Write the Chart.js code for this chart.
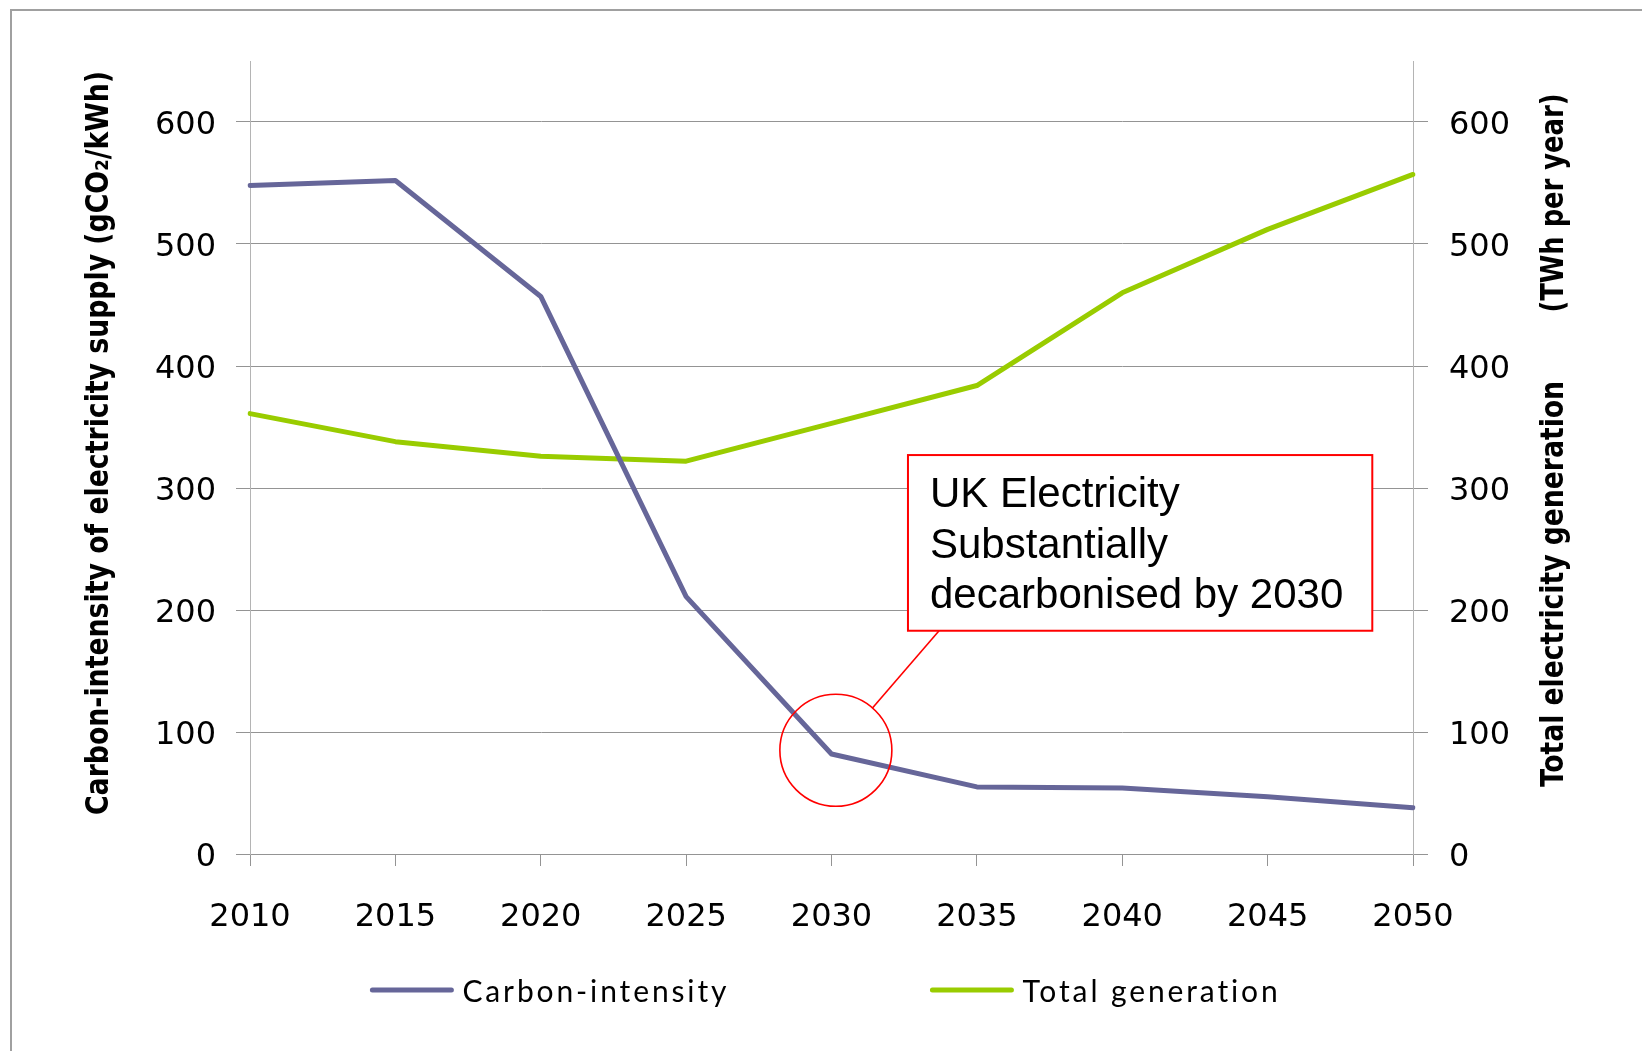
<!DOCTYPE html>
<html>
<head>
<meta charset="utf-8">
<title>UK electricity: carbon-intensity and total generation</title>
<script src="https://cdn.jsdelivr.net/npm/chart.js@4/dist/chart.umd.min.js"></script>
<style>
  html, body { margin: 0; padding: 0; background: #ffffff; }
  canvas { display: block; }
</style>
</head>
<body>
<canvas id="chart" width="1642" height="1051"></canvas>
<script>
// ---- data ----
const years = ['2010', '2015', '2020', '2025', '2030', '2035', '2040', '2045', '2050'];
const carbonIntensity = [548, 552, 457, 211, 82, 55, 54, 47, 38];      // gCO2/kWh
const totalGeneration = [361, 338, 326, 322, 353, 384, 460, 512, 557]; // TWh per year
const seriesNames = ['Carbon-intensity', 'Total generation'];
const axisMax = 650;
const axisStep = 100;

// ---- text ----
const leftTitle = 'Carbon-intensity of electricity supply (gCO\u2082/kWh)';
const rightTitleParts = ['Total electricity generation', '(TWh per year)'];
const calloutLines = ['UK Electricity', 'Substantially', 'decarbonised by 2030'];

// ---- styles ----
const BLUE = '#666699';
const GREEN = '#99cc00';
const GRID = '#949494';
const AXIS = '#b4b4b4';
const tickFont = { family: "'DejaVu Sans', Verdana, sans-serif", size: 32 };
const titleFont = "bold 32px 'Liberation Sans Narrow', 'DejaVu Sans Condensed', sans-serif";

// year -> pixel on the category axis (allows fractional years)
function yearPixel(chart, year) {
  const xs = chart.scales.x;
  const first = +years[0], last = +years[years.length - 1];
  const p0 = xs.getPixelForValue(0), p1 = xs.getPixelForValue(years.length - 1);
  return p0 + (year - first) / (last - first) * (p1 - p0);
}

// draw rotated (bottom-to-top) text, fitted to a given length
function drawVerticalText(ctx, text, baselineX, centerY, length, font) {
  ctx.save();
  ctx.font = font;
  const w = ctx.measureText(text).width;
  ctx.translate(baselineX, centerY);
  ctx.rotate(-Math.PI / 2);
  ctx.scale(length / w, 1);
  ctx.textAlign = 'center';
  ctx.textBaseline = 'alphabetic';
  ctx.fillStyle = '#000';
  ctx.fillText(text, 0, 0);
  ctx.restore();
}

// outer frame of the chart object
const framePlugin = {
  id: 'frame',
  beforeDraw(chart) {
    const ctx = chart.ctx;
    ctx.save();
    ctx.fillStyle = '#fff';
    ctx.fillRect(0, 0, chart.width, chart.height);
    ctx.strokeStyle = '#a0a0a0';
    ctx.lineWidth = 2;
    ctx.strokeRect(11, 10, chart.width + 50, chart.height + 50);
    ctx.restore();
  }
};

// axis titles (both read bottom to top)
const axisTitlePlugin = {
  id: 'axisTitles',
  afterDraw(chart) {
    const ctx = chart.ctx;
    drawVerticalText(ctx, leftTitle, 108, 443, 744, titleFont);
    drawVerticalText(ctx, rightTitleParts[0], 1563, 584, 406, titleFont);
    drawVerticalText(ctx, rightTitleParts[1], 1563, 203, 219, titleFont);
  }
};

// callout: circle on the 2030 point, leader line and text box
const callout = {
  year: 2030.15, value: 85, radius: 56,
  box: { x0: 2032.63, x1: 2048.6, top: 327, bottom: 183 },
  anchorYear: 2033.7
};
const calloutPlugin = {
  id: 'callout',
  afterDatasetsDraw(chart) {
    const ctx = chart.ctx, ys = chart.scales.y;
    const cx = yearPixel(chart, callout.year), cy = ys.getPixelForValue(callout.value);
    const bx0 = yearPixel(chart, callout.box.x0), bx1 = yearPixel(chart, callout.box.x1);
    const by0 = ys.getPixelForValue(callout.box.top), by1 = ys.getPixelForValue(callout.box.bottom);
    const ax = yearPixel(chart, callout.anchorYear), ay = by1;
    ctx.save();
    ctx.strokeStyle = '#ff0000';
    ctx.lineWidth = 1.6;
    ctx.beginPath();
    ctx.arc(cx, cy, callout.radius, 0, Math.PI * 2);
    ctx.stroke();
    const dx = ax - cx, dy = ay - cy, d = Math.hypot(dx, dy);
    ctx.beginPath();
    ctx.moveTo(cx + dx / d * callout.radius, cy + dy / d * callout.radius);
    ctx.lineTo(ax, ay);
    ctx.stroke();
    ctx.fillStyle = '#ffffff';
    ctx.fillRect(bx0, by0, bx1 - bx0, by1 - by0);
    ctx.lineWidth = 2;
    ctx.strokeRect(bx0, by0, bx1 - bx0, by1 - by0);
    ctx.fillStyle = '#000';
    ctx.font = "42px 'Liberation Sans', Arial, sans-serif";
    ctx.textAlign = 'left';
    ctx.textBaseline = 'alphabetic';
    calloutLines.forEach((line, i) => ctx.fillText(line, bx0 + 22, by0 + 52 + i * 50.5));
    ctx.restore();
  }
};

// legend row beneath the x axis
const legendPlugin = {
  id: 'lineLegend',
  afterDraw(chart) {
    const ctx = chart.ctx;
    const items = chart.data.datasets.map(ds => ({ text: ds.label, color: ds.borderColor }));
    const sample = 83, gapText = 9, gapItems = 201, y = 990;
    ctx.save();
    ctx.font = "30px Lato, 'Open Sans', sans-serif";
    ctx.letterSpacing = '0px';
    const w0 = ctx.measureText(items[0].text).width;
    const spacing = Math.max(0, (267 - w0) / items[0].text.length);
    ctx.letterSpacing = spacing.toFixed(2) + 'px';
    const widths = items.map(it => ctx.measureText(it.text).width);
    let total = 0;
    items.forEach((it, i) => { total += sample + gapText + widths[i] + (i < items.length - 1 ? gapItems : 0); });
    let x = (chart.chartArea.left + chart.chartArea.right) / 2 - 6 - total / 2;
    items.forEach((it, i) => {
      ctx.strokeStyle = it.color;
      ctx.lineWidth = 5;
      ctx.lineCap = 'round';
      ctx.beginPath();
      ctx.moveTo(x + 2, y);
      ctx.lineTo(x + sample - 2, y);
      ctx.stroke();
      ctx.fillStyle = '#000';
      ctx.textBaseline = 'alphabetic';
      ctx.fillText(it.text, x + sample + gapText, y + 11.5);
      x += sample + gapText + widths[i] + gapItems;
    });
    ctx.restore();
  }
};

new Chart(document.getElementById('chart'), {
  type: 'line',
  data: {
    labels: years,
    datasets: [
      {
        label: seriesNames[0], data: carbonIntensity, yAxisID: 'y',
        borderColor: BLUE, backgroundColor: BLUE, borderWidth: 5,
        pointRadius: 0, tension: 0, borderJoinStyle: 'round', borderCapStyle: 'round'
      },
      {
        label: seriesNames[1], data: totalGeneration, yAxisID: 'y1',
        borderColor: GREEN, backgroundColor: GREEN, borderWidth: 5,
        pointRadius: 0, tension: 0, borderJoinStyle: 'round', borderCapStyle: 'round'
      }
    ]
  },
  options: {
    responsive: false,
    devicePixelRatio: 1,
    animation: false,
    events: [],
    layout: { padding: { top: 61, left: 0, right: 0, bottom: 0 } },
    plugins: { legend: { display: false }, tooltip: { enabled: false }, title: { display: false } },
    scales: {
      x: {
        type: 'category',
        offset: false,
        grid: { drawOnChartArea: false, drawTicks: true, tickLength: 12, color: GRID },
        border: { display: true, color: GRID },
        ticks: { font: tickFont, color: '#000', padding: 32, maxRotation: 0, autoSkip: false },
        afterFit(scale) { scale.height = 197; }
      },
      y: {
        position: 'left',
        min: 0, max: axisMax,
        grid: { color: GRID, tickLength: 14 },
        border: { display: true, color: AXIS },
        ticks: { stepSize: axisStep, includeBounds: false, font: tickFont, color: '#000', padding: 20, labelOffset: 4 },
        afterFit(scale) { scale.width = 250; }
      },
      y1: {
        position: 'right',
        min: 0, max: axisMax,
        grid: { drawOnChartArea: false, color: GRID, tickLength: 15 },
        border: { display: true, color: AXIS },
        ticks: { stepSize: axisStep, includeBounds: false, font: tickFont, color: '#000', padding: 21, labelOffset: 4 },
        afterFit(scale) { scale.width = 229; }
      }
    }
  },
  plugins: [framePlugin, axisTitlePlugin, calloutPlugin, legendPlugin]
});
</script>
</body>
</html>
